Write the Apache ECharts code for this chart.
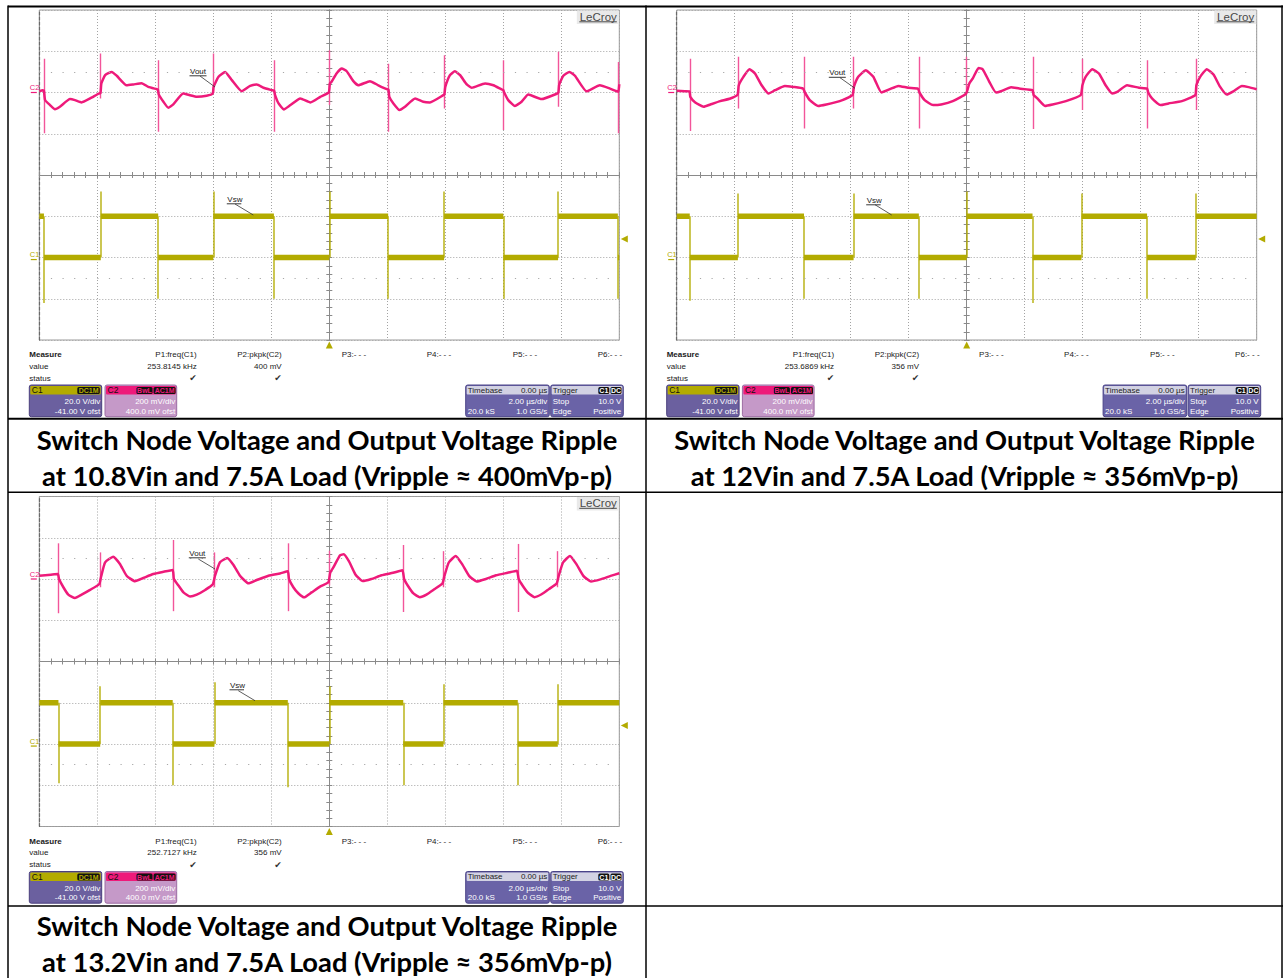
<!DOCTYPE html>
<html>
<head>
<meta charset="utf-8">
<title>Switch Node Voltage and Output Voltage Ripple</title>
<script src="https://cdn.jsdelivr.net/npm/echarts@6.0.0/dist/echarts.min.js"></script>
<style>
html,body{margin:0;padding:0;background:#fff;}
#chart{width:1283px;height:978px;}
</style>
</head>
<body>
<div id="chart"></div>
<script>
// ================= DATA =================
const captionLine1 = [
  "Switch Node Voltage and Output Voltage Ripple",
  "Switch Node Voltage and Output Voltage Ripple",
  "Switch Node Voltage and Output Voltage Ripple"
];
const captionLine2 = [
  "at 10.8Vin and 7.5A Load (Vripple \u2248 400mVp-p)",
  "at 12Vin and 7.5A Load (Vripple \u2248 356mVp-p)",
  "at 13.2Vin and 7.5A Load (Vripple \u2248 356mVp-p)"
];
const measureNames = ["P1:freq(C1)", "P2:pkpk(C2)", "P3:- - -", "P4:- - -", "P5:- - -", "P6:- - -"];
const freqValues = ["253.8145 kHz", "253.6869 kHz", "252.7127 kHz"];
const pkpkValues = ["400 mV", "356 mV", "356 mV"];
const c1Texts = ["C1", "DC1M", "20.0 V/div", "-41.00 V ofst"];
const c2Texts = ["C2", "BwL", "AC1M", "200 mV/div", "400.0 mV ofst"];
const timebaseTexts = ["Timebase", "0.00 \u00b5s", "2.00 \u00b5s/div", "20.0 kS", "1.0 GS/s"];
const triggerTexts = ["Trigger", "C1", "DC", "Stop", "10.0 V", "Edge", "Positive"];
const traceNames = ["Vout", "Vsw"];

// scope settings
const usPerDiv = 2;
const c1VoltsPerDiv = 20, c1OffsetV = -41;
const c2mVPerDiv = 200, c2OffsetmV = 400;
const triggerLevelV = 10;

// ---- Scope 1 (10.8 Vin) : time in us, Vout in mV (AC), Vsw in V ----
const vout1 = [
  [-10.0, 6], [-9.88, 11], [-9.84, 8], [-9.80, -37], [-9.63, -61], [-9.46, -81], [-9.29, -69], [-8.94, -32],
  [-8.77, -37], [-8.54, -48], [-8.25, -29], [-7.96, -6], [-7.89, -3], [-7.86, 44], [-7.73, 84], [-7.50, 100],
  [-7.33, 81], [-6.99, 35], [-6.76, 39], [-6.47, 45], [-6.24, 27], [-5.95, 16], [-5.91, 14], [-5.88, -10],
  [-5.72, -45], [-5.55, -74], [-5.38, -58], [-5.04, -5], [-4.81, -13], [-4.57, -21], [-4.23, -16], [-4.02, -5],
  [-3.99, 27], [-3.82, 76], [-3.59, 100], [-3.36, 60], [-3.02, 6], [-2.73, 32], [-2.50, 39], [-2.27, 23],
  [-1.98, 11], [-1.90, 8], [-1.87, -13], [-1.75, -53], [-1.57, -82], [-1.34, -61], [-1.00, -29], [-0.65, -48],
  [-0.31, -21], [-0.02, 0], [0.02, 44], [0.08, 52], [0.25, 92], [0.43, 116], [0.60, 103], [0.83, 55],
  [1.00, 35], [1.40, 55], [1.69, 35], [1.98, 16], [2.04, 14], [2.07, -21], [2.21, -53], [2.42, -85],
  [2.61, -69], [2.96, -29], [3.24, -45], [3.47, -48], [3.93, -13], [3.97, -8], [4.00, 27], [4.16, 84],
  [4.33, 103], [4.51, 84], [4.74, 39], [4.91, 23], [5.37, 44], [5.66, 35], [5.94, 15], [6.00, 12],
  [6.03, 0], [6.17, -37], [6.40, -65], [6.63, -45], [6.86, -10], [7.32, -32], [7.86, -5], [7.90, 0],
  [7.93, 39], [8.07, 81], [8.28, 100], [8.47, 81], [8.87, 6], [9.33, 35], [9.68, 19], [9.91, 6],
  [9.97, 4], [10.0, 40]
];
const voutSpikes1 = [
  [-9.84, 164, -198], [-7.89, 189, -29], [-5.91, 156, -190], [-4.00, 189, 0], [-1.90, 156, -190],
  [0.00, 205, -61], [2.04, 140, -190], [3.97, 181, -77], [6.00, 156, -182], [7.90, 197, -69], [9.97, 148, -198]
];
const vsw1 = [
  [-10, 21], [-9.84, 21], [-9.84, 1], [-7.88, 1], [-7.88, 21], [-5.90, 21], [-5.90, 1], [-4.00, 1],
  [-4.00, 21], [-1.91, 21], [-1.91, 1], [0, 1], [0, 21], [2.03, 21], [2.03, 1], [3.96, 1], [3.96, 21],
  [6.00, 21], [6.00, 1], [7.89, 1], [7.89, 21], [9.95, 21], [9.95, 1], [10, 1]
];
const vswSpikes1 = [
  [-9.84, 21, -21], [-7.88, 1, 33], [-5.90, 21, -19], [-4.00, 1, 33], [-1.91, 21, -19], [0, 1, 33],
  [2.03, 21, -19], [3.96, 1, 33], [6.00, 21, -19], [7.89, 1, 33], [9.95, 21, -19]
];

// ---- Scope 2 (12 Vin) ----
const vout2 = [
  [-10.0, 8], [-9.72, 6], [-9.56, 5], [-9.53, -21], [-9.36, -48], [-9.07, -69], [-8.84, -58], [-8.50, -42],
  [-8.15, -29], [-7.90, -10], [-7.86, 35], [-7.70, 76], [-7.49, 113], [-7.30, 92], [-7.07, 35], [-6.83, -5],
  [-6.61, 11], [-6.27, 32], [-5.98, 27], [-5.64, 19], [-5.58, 0], [-5.41, -37], [-5.12, -65], [-4.84, -58],
  [-4.38, -42], [-3.94, -13], [-3.89, 27], [-3.74, 76], [-3.48, 108], [-3.22, 76], [-2.94, 0], [-2.65, 16],
  [-2.36, 32], [-2.02, 23], [-1.68, 19], [-1.63, 0], [-1.45, -37], [-1.16, -61], [-0.88, -58], [-0.48, -42],
  [-0.02, -5], [0.09, 44], [0.21, 68], [0.41, 119], [0.55, 113], [0.78, 52], [1.01, 0], [1.18, 6],
  [1.53, 26], [1.81, 19], [2.27, 11], [2.31, -13], [2.44, -29], [2.70, -65], [2.96, -58], [3.42, -42],
  [3.93, -13], [3.99, 35], [4.10, 76], [4.33, 113], [4.56, 92], [4.79, 35], [5.02, -5], [5.19, 3],
  [5.53, 35], [5.94, 23], [6.22, 19], [6.26, 0], [6.39, -29], [6.68, -61], [6.96, -53], [7.42, -42],
  [7.88, -13], [7.92, 35], [8.05, 76], [8.28, 113], [8.51, 87], [8.74, 27], [8.97, -10], [9.20, 6],
  [9.49, 31], [9.72, 26], [10.0, 16]
];
const voutSpikes2 = [
  [-9.55, 164, -187], [-7.87, 173, -77], [-5.60, 173, -174], [-3.91, 173, -77], [-1.65, 173, -174],
  [0.00, 173, 0], [2.29, 173, -177], [3.97, 164, -85], [6.24, 156, -174], [7.90, 164, -85]
];
const vsw2 = [
  [-10, 21], [-9.55, 21], [-9.55, 1], [-7.89, 1], [-7.89, 21], [-5.61, 21], [-5.61, 1], [-3.90, 1],
  [-3.90, 21], [-1.65, 21], [-1.65, 1], [0, 1], [0, 21], [2.27, 21], [2.27, 1], [3.96, 1], [3.96, 21],
  [6.22, 21], [6.22, 1], [7.90, 1], [7.90, 21], [10, 21]
];
const vswSpikes2 = [
  [-9.55, 21, -20], [-7.89, 1, 32], [-5.61, 21, -19], [-3.90, 1, 32], [-1.65, 21, -19], [0, 1, 33],
  [2.27, 21, -21], [3.96, 1, 32], [6.22, 21, -19], [7.90, 1, 32]
];

// ---- Scope 3 (13.2 Vin) ----
const vout3 = [
  [-10.0, 16], [-9.60, 21], [-9.36, 24], [-9.32, 0], [-9.17, -40], [-9.00, -76], [-8.77, -92], [-8.54, -76],
  [-8.25, -53], [-7.93, -24], [-7.87, 11], [-7.73, 81], [-7.45, 108], [-7.22, 73], [-6.99, 16], [-6.70, -11],
  [-6.41, 5], [-6.07, 24], [-5.72, 35], [-5.40, 44], [-5.36, 0], [-5.20, -32], [-5.03, -65], [-4.80, -85],
  [-4.57, -76], [-4.28, -53], [-4.02, -27], [-3.94, 16], [-3.77, 81], [-3.52, 102], [-3.31, 69], [-3.08, 16],
  [-2.79, -21], [-2.50, -5], [-2.10, 16], [-1.70, 27], [-1.43, 37], [-1.39, 0], [-1.24, -40], [-1.07, -69],
  [-0.87, -89], [-0.61, -65], [-0.32, -37], [-0.03, -16], [0.03, 30], [0.14, 56], [0.37, 115], [0.50, 120],
  [0.68, 85], [0.90, 22], [1.15, -10], [1.45, 0], [1.80, 18], [2.20, 30], [2.52, 42], [2.58, 0],
  [2.72, -35], [2.90, -70], [3.12, -88], [3.35, -76], [3.62, -50], [3.90, -22], [3.97, 15], [4.12, 80],
  [4.36, 112], [4.58, 72], [4.82, 15], [5.08, -12], [5.40, 0], [5.75, 18], [6.15, 30], [6.47, 40],
  [6.53, 0], [6.68, -35], [6.86, -68], [7.08, -88], [7.32, -74], [7.58, -48], [7.84, -22], [7.91, 15],
  [8.06, 80], [8.30, 112], [8.52, 72], [8.76, 15], [9.02, -12], [9.35, -2], [9.70, 15], [10.0, 28]
];
const voutSpikes3 = [
  [-9.34, 173, -166], [-7.89, 129, -40], [-5.38, 189, -156], [-3.96, 129, -40], [-1.41, 173, -156],
  [0.00, 137, -32], [2.55, 165, -160], [3.93, 135, -40], [6.50, 170, -160], [7.87, 135, -40]
];
const vsw3 = [
  [-10, 21], [-9.34, 21], [-9.34, 1], [-7.90, 1], [-7.90, 21], [-5.40, 21], [-5.40, 1], [-3.96, 1],
  [-3.96, 21], [-1.43, 21], [-1.43, 1], [0, 1], [0, 21], [2.55, 21], [2.55, 1], [3.94, 1], [3.94, 21],
  [6.50, 21], [6.50, 1], [7.88, 1], [7.88, 21], [10, 21]
];
const vswSpikes3 = [
  [-9.34, 21, -18], [-7.90, 1, 29], [-5.40, 21, -19], [-3.96, 1, 31], [-1.43, 21, -20], [0, 1, 29],
  [2.55, 21, -19], [3.94, 1, 30], [6.50, 21, -19], [7.88, 1, 30]
];

// ================= LAYOUT / STYLE =================
const PLOT_W = 580, PLOT_H = 330;
const PANELS = [
  {ox: 39.3, oy: 10, cx: 327, capY: 439},
  {ox: 676.7, oy: 10, cx: 964.5, capY: 439},
  {ox: 39.3, oy: 496.5, cx: 327, capY: 925}
];
// [textLeft, textY, leaderX1, leaderY1, leaderX2, leaderY2] relative to plot origin
const LABEL_POS = [
  {vout: [150.7, 61, 160.7, 66, 175.7, 77], vsw: [188, 189, 195.7, 194, 214, 205]},
  {vout: [152.6, 62.5, 163.3, 67.7, 178.3, 78.3], vsw: [190, 190, 198.3, 194.7, 215, 205]},
  {vout: [150, 56.5, 159, 62.5, 175.7, 72.5], vsw: [190.7, 188.5, 199, 194.2, 215.7, 204.2]}
];
const OLIVE = '#b3ab00', PINK = '#ee1a7a', PINK_LIGHT = '#f2559a';
const GRID_C = '#a3a3a3', AXIS_C = '#8a8a8a';
const SANS = '"Liberation Sans", Arial, Helvetica, sans-serif';

const VOUT = [vout1, vout2, vout3];
const VOUT_SPK = [voutSpikes1, voutSpikes2, voutSpikes3];
const VSW = [vsw1, vsw2, vsw3];
const VSW_SPK = [vswSpikes1, vswSpikes2, vswSpikes3];

const tMin = -5 * usPerDiv, tMax = 5 * usPerDiv;
const c1Center = -c1OffsetV;
const c1Min = c1Center - 4 * c1VoltsPerDiv, c1Max = c1Center + 4 * c1VoltsPerDiv;
const c2Center = -c2OffsetmV;
const c2Min = c2Center - 4 * c2mVPerDiv, c2Max = c2Center + 4 * c2mVPerDiv;

// the thick noisy plateaus are drawn as separate runs; the (thin) edges come from the spike lines
function plateauRuns(pts) {
  const out = [];
  for (let k = 0; k < pts.length; k++) {
    if (k > 0 && pts[k][0] === pts[k - 1][0]) out.push([pts[k][0], '-']);
    out.push(pts[k]);
  }
  return out;
}

// ================= HELPERS =================
function T(x, y, s, o) {
  o = o || {};
  const al = o.align || 'left';
  return {type: 'text', x: x, y: y, z: 200, silent: true,
    style: {text: s, fill: o.fill || '#1a1a1a',
      font: (o.weight || 'normal') + ' ' + (o.size || 8) + 'px ' + (o.family || SANS),
      align: al, textAlign: al, verticalAlign: 'middle', textVerticalAlign: 'middle'}};
}
function R(x, y, w, h, fill, stroke, r) {
  return {type: 'rect', z: 150, silent: true, shape: {x: x, y: y, width: w, height: h, r: r || 0},
    style: {fill: fill, stroke: stroke || null, lineWidth: stroke ? 1 : 0}};
}
function L(x1, y1, x2, y2, stroke, w) {
  return {type: 'line', z: 150, silent: true, shape: {x1: x1, y1: y1, x2: x2, y2: y2},
    style: {stroke: stroke, lineWidth: w || 1}};
}
function badge(g, x, y, w, label, color) {
  g.push(R(x, y, w, 7, '#111', null, 1.5));
  g.push(T(x + w / 2, y + 3.7, label, {size: 7, fill: color, align: 'center', weight: 'bold'}));
}
function yPix(p, v, center, perDiv) {
  return p.oy + PLOT_H / 2 - (v - center) / perDiv * (PLOT_H / 8);
}

// fit caption font size to the reference width
function fitFont(text, targetW) {
  const ctx = document.createElement('canvas').getContext('2d');
  ctx.font = 'bold 100px Lato';
  const w = ctx.measureText(text).width;
  return w > 0 ? 100 * targetW / w : 26;
}
const capSize = fitFont(captionLine1[0], 583);

// ================= BUILD OPTION =================
const grids = [], xAxes = [], yAxes = [], series = [], graphics = [];

PANELS.forEach(function (p, i) {
  grids.push({left: p.ox, top: p.oy, width: PLOT_W, height: PLOT_H, show: true,
    borderColor: '#9a9a9a', borderWidth: 1, backgroundColor: 'transparent', containLabel: false});

  const xBase = {gridIndex: i, type: 'value', min: tMin, max: tMax, interval: usPerDiv,
    axisLabel: {show: false}, splitLine: {show: false}};
  xAxes.push(Object.assign({}, xBase, {position: 'bottom',
    axisLine: {show: false, onZero: false}, axisTick: {show: false},
    splitLine: {show: true, lineStyle: {color: GRID_C, type: [1, 2], width: 1}}}));
  ['bottom', 'top'].forEach(function (pos) {
    xAxes.push(Object.assign({}, xBase, {position: pos,
      axisLine: {show: true, onZero: true, onZeroAxisIndex: 5 * i, lineStyle: {color: AXIS_C, width: 1}},
      axisTick: {show: true, length: 3, lineStyle: {color: AXIS_C}},
      minorTick: {show: true, splitNumber: 5, length: 3, lineStyle: {color: AXIS_C}}}));
  });

  const yBase = {gridIndex: i, type: 'value', min: -4, max: 4, interval: 1,
    axisLabel: {show: false}, splitLine: {show: false}};
  yAxes.push(Object.assign({}, yBase, {position: 'left',
    axisLine: {show: true, onZero: false, lineStyle: {color: '#6a6a6a', type: [3, 2], width: 1.2}},
    axisTick: {show: false},
    splitLine: {show: true, lineStyle: {color: GRID_C, type: [1, 2], width: 1}}}));
  ['left', 'right'].forEach(function (pos) {
    yAxes.push(Object.assign({}, yBase, {position: pos,
      axisLine: {show: true, onZero: true, onZeroAxisIndex: 3 * i, lineStyle: {color: AXIS_C, width: 1}},
      axisTick: {show: true, length: 3, lineStyle: {color: AXIS_C}},
      minorTick: {show: true, splitNumber: 5, length: 3, lineStyle: {color: AXIS_C}}}));
  });
  yAxes.push({gridIndex: i, type: 'value', min: c1Min, max: c1Max, show: false});
  yAxes.push({gridIndex: i, type: 'value', min: c2Min, max: c2Max, show: false});

  // Vsw (C1)
  series.push({type: 'line', name: 'Vsw ' + (i + 1), xAxisIndex: 3 * i, yAxisIndex: 5 * i + 3,
    data: plateauRuns(VSW[i]), connectNulls: false, symbol: 'none', z: 3,
    lineStyle: {color: OLIVE, width: 5.5, cap: 'butt'},
    markPoint: {silent: true, symbol: 'triangle', symbolSize: 7, label: {show: false},
      itemStyle: {color: OLIVE},
      data: [{coord: [tMax, triggerLevelV], symbolRotate: 90, symbolOffset: [5, 0]},
             {coord: [0, c1Min], symbolOffset: [0, 5]}]}});
  series.push({type: 'lines', coordinateSystem: 'cartesian2d', xAxisIndex: 3 * i, yAxisIndex: 5 * i + 3,
    z: 3, silent: true, polyline: false,
    lineStyle: {color: OLIVE, width: 1.6, opacity: 0.85},
    data: VSW_SPK[i].map(function (s) { return {coords: [[s[0], s[1]], [s[0], s[2]]]}; })});
  // Vout (C2)
  series.push({type: 'line', name: 'Vout ' + (i + 1), xAxisIndex: 3 * i, yAxisIndex: 5 * i + 4,
    data: VOUT[i], symbol: 'none', z: 4, smooth: 0.15, lineStyle: {color: PINK, width: 2.5},
    markLine: {silent: true, symbol: 'none', label: {show: false},
      lineStyle: {color: '#a8a8a8', type: [1.2, 10.4], width: 1},
      data: [{yAxis: c2Center + 2.5 * c2mVPerDiv}, {yAxis: c2Center - 2.5 * c2mVPerDiv}]}});
  series.push({type: 'lines', coordinateSystem: 'cartesian2d', xAxisIndex: 3 * i, yAxisIndex: 5 * i + 4,
    z: 4, silent: true, polyline: false,
    lineStyle: {color: PINK_LIGHT, width: 1.4, opacity: 1},
    data: VOUT_SPK[i].map(function (s) { return {coords: [[s[0], s[1]], [s[0], s[2]]]}; })});

  // ---------- scope decorations ----------
  const g = graphics, ox = p.ox, oy = p.oy;
  // LeCroy logo
  g.push(R(ox + 537.5, oy + 0.5, 42, 13.5, '#e9e9e9', null, 0));
  g.push(T(ox + 577.5, oy + 6.8, 'LeCroy', {size: 11.5, fill: '#4a4a4a', align: 'right'}));
  g.push(L(ox + 540, oy + 11.8, ox + 577.5, oy + 11.8, '#4a4a4a', 1));
  // channel ground markers
  const c2y = yPix(p, 0, c2Center, c2mVPerDiv), c1y = yPix(p, 0, c1Center, c1VoltsPerDiv);
  g.push(T(ox - 9.5, c2y - 5, 'C2', {size: 7.5, fill: PINK}));
  g.push(L(ox - 8.5, c2y, ox - 2.5, c2y, PINK, 1.2));
  g.push(T(ox - 9.5, c1y - 5, 'C1', {size: 7.5, fill: OLIVE}));
  g.push(L(ox - 8.5, c1y, ox - 2.5, c1y, OLIVE, 1.2));
  // trace labels
  const lp = LABEL_POS[i];
  [['vout', traceNames[0]], ['vsw', traceNames[1]]].forEach(function (k) {
    const a = lp[k[0]];
    const w = k[1] === 'Vout' ? 16.5 : 14;
    g.push(T(ox + a[0], oy + a[1], k[1], {size: 8, fill: '#222'}));
    g.push(L(ox + a[0] - 0.5, oy + a[1] + 4.8, ox + a[0] + w, oy + a[1] + 4.8, '#222', 0.9));
    g.push(L(ox + a[2], oy + a[3], ox + a[4], oy + a[5], '#333', 0.8));
  });
  // measure table
  const my = [oy + 344.5, oy + 356, oy + 368.3];
  g.push(T(ox - 10, my[0], 'Measure', {weight: 'bold'}));
  g.push(T(ox - 10, my[1], 'value'));
  g.push(T(ox - 10, my[2], 'status'));
  g.push(T(ox + 157.4, my[0], measureNames[0], {align: 'right'}));
  g.push(T(ox + 157.4, my[1], freqValues[i], {align: 'right'}));
  g.push(T(ox + 157.6, my[2], '\u2714', {align: 'right', size: 9, family: '"DejaVu Sans", sans-serif', fill: '#333'}));
  g.push(T(ox + 242.4, my[0], measureNames[1], {align: 'right'}));
  g.push(T(ox + 242.4, my[1], pkpkValues[i], {align: 'right'}));
  g.push(T(ox + 242.6, my[2], '\u2714', {align: 'right', size: 9, family: '"DejaVu Sans", sans-serif', fill: '#333'}));
  [302.4, 387.4, 473.4, 558.4].forEach(function (rx, k) {
    g.push(T(ox + rx, my[0], measureNames[k + 2]));
  });
  // channel boxes
  const by = oy + 375, bh = 31.7, hh = 9.6;
  let bx = ox - 10, bw = 72.4;
  g.push(R(bx, by, bw, bh, '#6b609f', '#4a3f7d', 2));
  g.push(R(bx + 1, by + 1, bw - 2, hh - 1, OLIVE, null, 1));
  g.push(T(bx + 2.5, by + 5.4, c1Texts[0], {size: 8.5, fill: '#111'}));
  badge(g, bx + 48, by + 2.1, 22.5, c1Texts[1], OLIVE);
  g.push(T(bx + bw - 1.5, by + 16.7, c1Texts[2], {fill: '#fff', align: 'right'}));
  g.push(T(bx + bw - 1.5, by + 26, c1Texts[3], {fill: '#fff', align: 'right'}));

  bx = ox + 65.7; bw = 71.7;
  g.push(R(bx, by, bw, bh, '#c599c8', '#9c6ca2', 2));
  g.push(R(bx + 1, by + 1, bw - 2, hh - 1, PINK, null, 1));
  g.push(T(bx + 2.5, by + 5.4, c2Texts[0], {size: 8.5, fill: '#111'}));
  badge(g, bx + 31.5, by + 2.1, 16, c2Texts[1], PINK);
  badge(g, bx + 48.6, by + 2.1, 22, c2Texts[2], PINK);
  g.push(T(bx + bw - 1.5, by + 16.7, c2Texts[3], {fill: '#fff', align: 'right'}));
  g.push(T(bx + bw - 1.5, by + 26, c2Texts[4], {fill: '#fff', align: 'right'}));

  bx = ox + 426.4; bw = 83.6;
  g.push(R(bx, by, bw, bh, '#6a63a7', '#4a4488', 2));
  g.push(R(bx + 1, by + 1, bw - 2, hh - 1, '#d2d2e3', null, 1));
  g.push(T(bx + 2, by + 5.4, timebaseTexts[0], {fill: '#222'}));
  g.push(T(bx + bw - 2, by + 5.4, timebaseTexts[1], {fill: '#222', align: 'right'}));
  g.push(T(bx + bw - 2, by + 16.7, timebaseTexts[2], {fill: '#fff', align: 'right'}));
  g.push(T(bx + 2, by + 26, timebaseTexts[3], {fill: '#fff'}));
  g.push(T(bx + bw - 2, by + 26, timebaseTexts[4], {fill: '#fff', align: 'right'}));

  bx = ox + 511.4; bw = 72.6;
  g.push(R(bx, by, bw, bh, '#6a63a7', '#4a4488', 2));
  g.push(R(bx + 1, by + 1, bw - 2, hh - 1, '#d2d2e3', null, 1));
  g.push(T(bx + 2, by + 5.4, triggerTexts[0], {fill: '#222'}));
  badge(g, bx + 47.6, by + 2.1, 11, triggerTexts[1], '#fff');
  badge(g, bx + 59.8, by + 2.1, 11, triggerTexts[2], '#fff');
  g.push(T(bx + 2, by + 16.7, triggerTexts[3], {fill: '#fff'}));
  g.push(T(bx + bw - 2, by + 16.7, triggerTexts[4], {fill: '#fff', align: 'right'}));
  g.push(T(bx + 2, by + 26, triggerTexts[5], {fill: '#fff'}));
  g.push(T(bx + bw - 2, by + 26, triggerTexts[6], {fill: '#fff', align: 'right'}));

  // captions
  g.push(T(p.cx, p.capY, captionLine1[i], {size: capSize, weight: 'bold', family: 'Lato, "Open Sans", sans-serif', fill: '#000', align: 'center'}));
  g.push(T(p.cx, p.capY + 36, captionLine2[i], {size: capSize, weight: 'bold', family: 'Lato, "Open Sans", sans-serif', fill: '#000', align: 'center'}));
});

// table borders
[[8, 6.5, 1283, 6.5, 2], [8, 418.8, 1283, 418.8, 2], [8, 492.3, 1283, 492.3, 1.5], [8, 906, 1283, 906, 1.5],
 [8, 5.5, 8, 978, 1.5], [646, 5.5, 646, 978, 1.5], [1282, 5.5, 1282, 978, 1.5]].forEach(function (b) {
  graphics.push(L(b[0], b[1], b[2], b[3], '#000', b[4]));
});

const option = {
  animation: false,
  backgroundColor: '#ffffff',
  grid: grids,
  xAxis: xAxes,
  yAxis: yAxes,
  series: series,
  graphic: {elements: graphics}
};

const chart = echarts.init(document.getElementById('chart'), null, {renderer: 'svg', width: 1283, height: 978});
chart.setOption(option);
</script>
</body>
</html>
